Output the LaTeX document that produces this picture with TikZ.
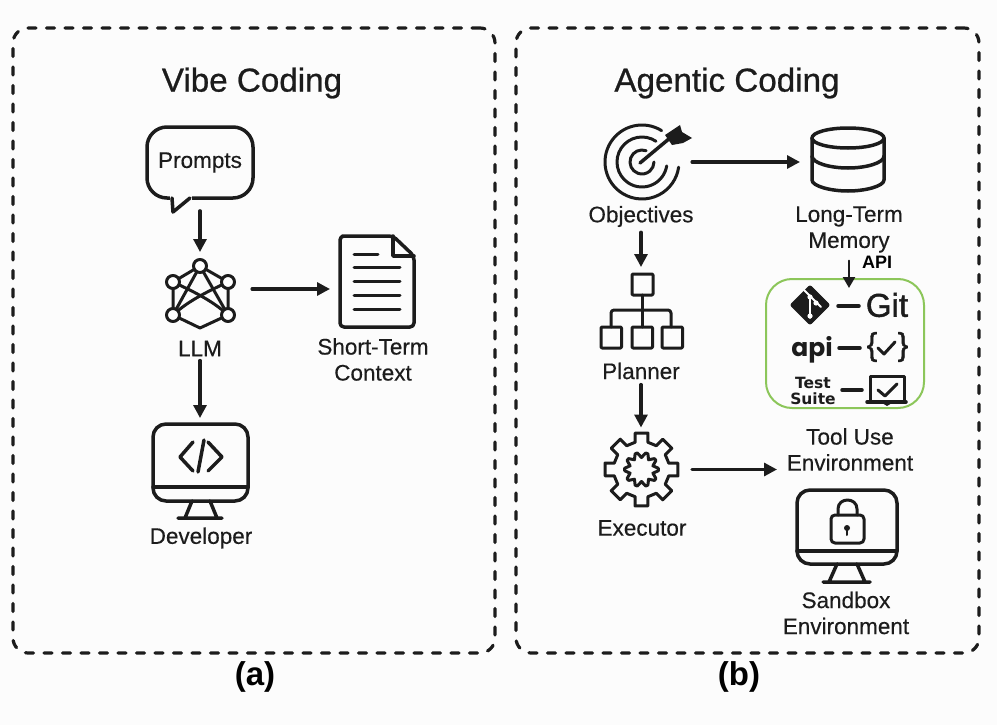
\documentclass[tikz,border=0pt]{standalone}
\usepackage{fontspec}
\setmainfont{Liberation Sans}
\newfontfamily\labelfont[FakeBold=0.35]{Liberation Sans}
\newfontfamily\titlefont[FakeBold=0.7]{Liberation Sans}
\newfontfamily\apifont{Poppins}
\newfontfamily\testfont{DejaVu Sans}
\newfontfamily\gitfont[FakeBold=1.2]{Liberation Sans}
\usetikzlibrary{arrows.meta}
\definecolor{ink}{HTML}{1C1C1C}
\definecolor{leaf}{HTML}{8CC65A}
\begin{document}
\begin{tikzpicture}[x=1pt, y=-1pt, line join=round, line cap=round,
   frame_style/.style={draw=ink, line width=3.2pt, dash pattern=on 8pt off 10.5pt, rounded corners=15pt},
   icon_line/.style={draw=ink, line width=3.5pt},
   thin_line/.style={draw=ink, line width=3pt},
   edge_style/.style={draw=ink, line width=3.1pt, -{Triangle[length=13pt,width=13pt]}},
   icon_box/.style={inner sep=0pt, outer sep=0pt},
   label_style/.style={text=ink, align=center, inner sep=0pt, font=\fontsize{22.5}{26}\selectfont\labelfont},
   title_style/.style={text=ink, inner sep=0pt, font=\fontsize{33.2}{38}\selectfont\titlefont},
   caption_style/.style={text=black, inner sep=0pt, font=\fontsize{33}{38}\selectfont\bfseries}]
	\useasboundingbox (0,0) rectangle (997,725);
	\fill [white!99!black] (0,0) rectangle (997,725);

	\node [frame_style, minimum width=482pt, minimum height=625pt] (vibe_frame) at (254,340.5) {};
	\node [frame_style, minimum width=463pt, minimum height=625pt] (agentic_frame) at (747.5,340.5) {};
	\node [title_style] (vibe_title) at (252,83) {Vibe Coding};
	\node [title_style] (agentic_title) at (727,83) {Agentic Coding};
	\node [caption_style] (cap_a) at (255,677) {(a)};
	\node [caption_style] (cap_b) at (739,677) {(b)};

	\node [icon_line, label_style, rounded corners=20pt, minimum width=106pt, minimum height=71pt] (prompts) at (200,162.5) {\raisebox{-3.5pt}{Prompts}};
	\node [icon_box, minimum width=68pt, minimum height=62pt] (llm) at (200,289) {};
	\node [label_style] (llm_label) at (200,348.5) {LLM};
	\node [icon_box, minimum width=74pt, minimum height=76pt] (context) at (377,289) {};
	\node [label_style] (context_label) at (373,359.5) {Short-Term\\Context};
	\node [icon_box, minimum width=95pt, minimum height=77pt] (developer) at (200,462.5) {};
	\node [label_style] (developer_label) at (201,538) {Developer};

	\node [icon_box, minimum width=70pt, minimum height=70pt] (objectives) at (640,162) {};
	\node [label_style] (objectives_label) at (641,216.5) {Objectives};
	\node [icon_box, minimum width=72pt, minimum height=62pt] (memory) at (848,162) {};
	\node [label_style] (memory_label) at (849,229.5) {Long-Term\\Memory};
	\node [icon_box, minimum width=81pt, minimum height=74pt] (planner) at (641,311) {};
	\node [label_style] (planner_label) at (641,371) {Planner};
	\node [icon_box, minimum width=74pt, minimum height=74pt] (executor) at (641,469.5) {};
	\node [label_style] (executor_label) at (642,528) {Executor};
	\node [label_style] (tool_label) at (850,449.5) {Tool Use\\Environment};
	\node [label_style] (sandbox_label) at (846,613) {Sandbox\\Environment};
	\node [draw=leaf, line width=2pt, rounded corners=26pt, minimum width=158pt, minimum height=129pt] (tools) at (845,343.5) {};
	\node [text=black, inner sep=0pt, font=\fontsize{18}{20}\selectfont\bfseries] (api_label) at (877,262) {API};
	\coordinate (tool_in) at (785,469.5);
	\coordinate (api_in) at (849,288);

	\foreach \from/\to/\gapa/\gapb in {
		prompts.south/llm.north/11/6,
		llm.east/context.west/18/10,
		llm_label.south/developer.north/4/6,
		objectives.east/memory.west/17/12,
		objectives_label.south/planner.north/5/7,
		planner_label.south/executor.north/5/5,
		executor.east/tool_in/14/8
		}
	  \draw [edge_style, shorten <=\gapa pt, shorten >=\gapb pt] (\from) -- (\to);
	\draw [edge_style, line width=2.4pt, -{Triangle[length=11pt,width=12pt]}, shorten <=8pt] (memory_label.south) -- (api_in);

	% bubble tail
	\fill [white!99!black] (170,196) rectangle (192,200);
	\draw [icon_line] (172,198) -- (173,212) -- (190,198);

	% llm
	\foreach \a/\b in {200/173,200/228}{
		\draw [thin_line] (\a,266) -- (\b,282);
		\draw [thin_line] (\a,266) -- (\b,315);
	}
	\draw [thin_line] (173,282) -- (173,315) -- (200,328) -- (228,315) -- (228,282);
	\draw [thin_line] (173,282) .. controls (190,290) and (212,300) .. (228,315);
	\draw [thin_line] (228,282) .. controls (211,290) and (189,300) .. (173,315);
	\foreach \x/\y in {200/266,173/282,228/282,173/315,228/315}
		\draw [thin_line, fill=white] (\x,\y) circle (6.5);

	% document
	\draw [icon_line, rounded corners=4pt] (393,236) -- (346,236) -- (340,236) -- (340,327) -- (414,327) -- (414,256) -- cycle;
	\draw [icon_line] (393,236) -- (393,256) -- (414,256);
	\draw [thin_line] (354,254) -- (378,254);
	\foreach \y in {267,281,295,309}
		\draw [thin_line] (354,\y) -- (400,\y);

	% developer screen
	\draw [icon_line, rounded corners=13pt] (153,424) rectangle (248,501);
	\draw [icon_line] (153,487) -- (248,487);
	\draw [icon_line] (192,501) -- (185,518) (210,501) -- (217,518) (178,518) -- (222,518);
	\draw [icon_line] (193,442) -- (180,457) -- (193,471) (208,442) -- (222,457) -- (208,471) (204,440) -- (198,472);

	% target
	\begin{scope}[shift={(642,162)}]
		\foreach \r/\s/\e in {37/-58/-352,25/-56/-351,12/-70/-360}
			\draw [thin_line] (\s:\r) arc [start angle=\s, end angle=\e, x radius=\r, y radius=\r];
	\end{scope}
	\draw [icon_line] (640,163) -- (670,138);
	\fill [ink] (665,135) -- (680,125) -- (682,132) -- (692,138) -- (683,143) -- (672,145) -- cycle;

	% memory
	\draw [icon_line] (848,138) ellipse (36 and 10);
	\draw [icon_line] (812,138) -- (812,180) .. controls (812,186) and (830,191) .. (848,191) .. controls (866,191) and (884,186) .. (884,180) -- (884,138);
	\draw [icon_line] (812,156) .. controls (812,163) and (830,168) .. (848,168) .. controls (866,168) and (884,163) .. (884,156);

	% planner
	\draw [thin_line, rounded corners=1pt] (632,274) rectangle (653,295);
	\foreach \x in {601,632,662}
		\draw [thin_line, rounded corners=1pt] (\x,327) rectangle +(20.5,21);
	\draw [thin_line] (642,295) -- (642,327);
	\draw [thin_line, rounded corners=3pt] (611,327) -- (611,310) -- (671,310) -- (671,327);

	% gears
	\begin{scope}[shift={(641.5,469.5)}]
		\draw [thin_line] \foreach \a in {0,45,...,315}{ (\a-10:37) -- (\a+10:37) -- (\a+13:28) -- (\a+32:28) -- (\a+35:37) };
		\draw [thin_line] \foreach \a in {0,36,...,324}{ (\a-4:17) -- (\a+4:17) -- (\a+18:12) -- (\a+32:17) };
	\end{scope}

	% tools panel
	\draw [ink, fill=ink, rounded corners=2pt] (810,285) -- (830,305) -- (810,325) -- (790,305) -- cycle;
	\draw [white, line width=1.8pt] (804,290) -- (821,307) (810,297) -- (810,318);
	\fill [white] (810,297) circle (2.6) (816,303) circle (2.6) (810,316) circle (2.6);
	\node [text=ink, inner sep=0pt, font=\fontsize{33}{38}\selectfont\gitfont] (git_label) at (887,305) {Git};
	\node [text=ink, inner sep=0pt, font=\fontsize{25}{28}\selectfont\apifont\bfseries] (api_text) at (812,350) {api};
	\node [text=ink, inner sep=0pt, align=center, font=\fontsize{15.5}{15.5}\selectfont\testfont\bfseries] (test_label) at (813,391) {Test\\Suite};
	\node [text=ink, inner sep=0pt, font=\fontsize{32}{34}\selectfont\gitfont] (brace_l) at (872,347) {\{};
	\node [text=ink, inner sep=0pt, font=\fontsize{32}{34}\selectfont\gitfont] (brace_r) at (903,347) {\}};
	\draw [icon_line] (838,306) -- (859,306) (839,348) -- (860,348) (842,390) -- (862,390);
	\draw [thin_line] (878,348) -- (884,354) -- (895,342);
	\draw [thin_line] (870,400) -- (870,376) -- (904,376) -- (904,400);
	\draw [icon_line] (867,402) -- (906,402);
	\fill [ink] (882,403) -- (892,403) -- (887,406) -- cycle;
	\draw [thin_line] (878,390) -- (885,396) -- (897,384);

	% sandbox screen
	\draw [icon_line, rounded corners=13pt] (797,490) rectangle (897,564);
	\draw [icon_line] (797,551) -- (897,551);
	\draw [icon_line] (837,564) -- (829,582) (857,564) -- (865,582) (823,582) -- (870,582);
	\draw [thin_line, rounded corners=4pt] (831,515) rectangle (864,543);
	\draw [thin_line] (838,515) -- (838,509) .. controls (838,497) and (857,497) .. (857,509) -- (857,515);
	\fill [ink] (847,528) circle (3);
	\draw [ink, line width=2pt] (847,528) -- (847,535);
\end{tikzpicture}
\end{document}
